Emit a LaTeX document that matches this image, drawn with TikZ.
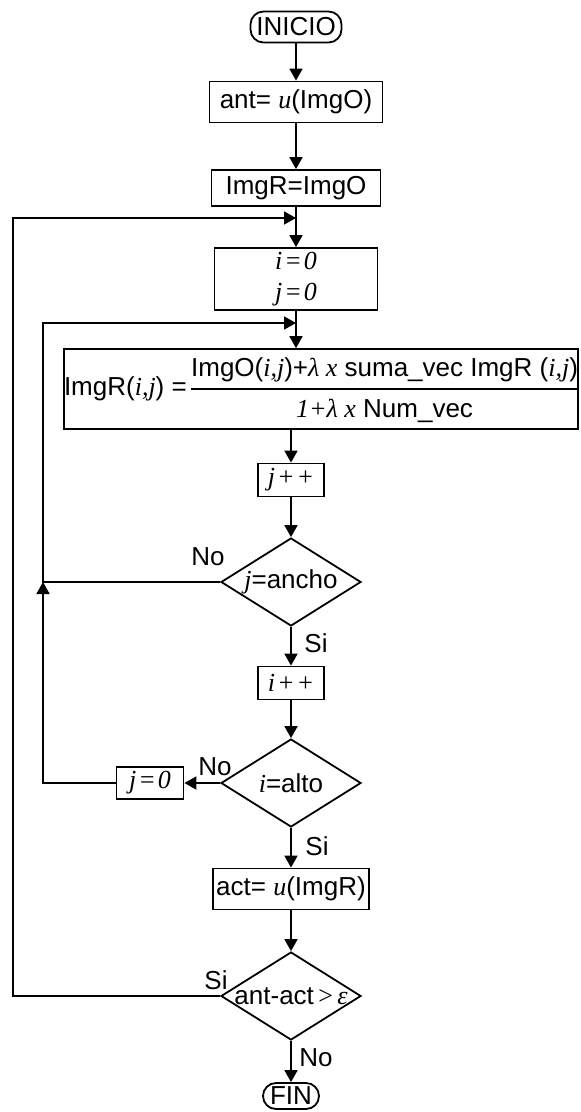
\documentclass[tikz,border=0pt]{standalone}
\usepackage{fontspec}
\setmainfont{Liberation Sans}
\newfontfamily\tms{Liberation Serif}
\usetikzlibrary{shapes.geometric,arrows.meta}
\newcommand{\vi}[1]{{\tms\itshape #1}}
\renewcommand{\arraystretch}{1.25}
\setlength{\arrayrulewidth}{0.9pt}

\begin{document}
\begin{tikzpicture}[x=0.5pt,y=-0.5pt,
        font=\fontsize{13}{15.6}\selectfont,
        line width=0.9pt,
        flow/.style={-{Triangle[length=6pt,width=6.5pt]}},
        proc/.style={draw,rectangle,inner sep=0pt},
        term/.style={draw,rectangle,rounded corners=6.5pt,inner sep=0pt},
        decision/.style={draw,diamond,inner sep=0pt,minimum width=70pt,minimum height=44pt},
        lbl/.style={inner sep=0pt}]
        \useasboundingbox (0,0) rectangle (580,1112);
        % main column
        \node[term,minimum width=45.5pt,minimum height=15.5pt] (inicio) at (296,27) {INICIO};
        \node[proc,minimum width=86.5pt,minimum height=20.5pt] (ant) at (296,102) {ant= \vi{u}(ImgO)};
        \node[proc,minimum width=84.5pt,minimum height=18pt] (copia) at (296,188) {ImgR=ImgO};
        \node[proc,minimum width=81.5pt,minimum height=31pt,align=center] (ini) at (296,279) {\vi{i\kern1pt=\kern1pt0}\\\vi{j\kern1pt=\kern1pt0}};
        \node[proc,minimum width=257pt,minimum height=37pt] (upd) at (321,389)
            {ImgR(\vi{i,j}) =\,\begin{tabular}{@{}c@{}}
                ImgO(\vi{i,j})+\vi{λ x} suma\_vec ImgR (\vi{i,j})\\\hline
                \vi{1+λ x} Num\_vec
            \end{tabular}};
        \node[proc,minimum width=33pt,minimum height=16.5pt] (jinc) at (291,480) {\vi{j\kern1pt+\kern1pt+}};
        \node[decision,label=center:{\vi{j}=ancho}] (ancho) at (291,582) {};
        \node[proc,minimum width=33pt,minimum height=16.5pt] (iinc) at (291,683) {\vi{i\kern1pt+\kern1pt+}};
        \node[decision,label=center:{\vi{i}=alto}] (alto) at (291,783) {};
        \node[proc,minimum width=33.5pt,minimum height=16pt] (jz) at (150,783) {\vi{j\kern1pt=\kern1pt0}};
        \node[proc,minimum width=78pt,minimum height=20.5pt] (act) at (291,889) {act= \vi{u}(ImgR)};
        \node[decision,label=center:{ant-act\,{\tms >}\,\vi{ε}}] (cmp) at (291,996) {};
        \node[term,minimum width=28pt,minimum height=13pt] (fin) at (291,1096) {FIN};
        % labels
        \node[lbl] (no1) at (208,557) {No};
        \node[lbl] (si1) at (316,643) {Si};
        \node[lbl] (no2) at (215,767) {No};
        \node[lbl] (si2) at (317,846) {Si};
        \node[lbl] (si3) at (216,980) {Si};
        \node[lbl] (no3) at (316,1058) {No};
        % joins
        \coordinate (join1) at (296,218);
        \coordinate (join2) at (296,323);
        \coordinate (outer) at (13,218);
        \coordinate (inner) at (43,323);
        % arrows
        \draw[flow] (inicio) -- (ant);
        \draw[flow] (ant) -- (copia);
        \draw[flow] (copia) -- (ini);
        \draw[flow] (ini) -- (ini |- upd.north);
        \draw[flow] (jinc |- upd.south) -- (jinc);
        \draw[flow] (jinc) -- (ancho);
        \draw[flow] (ancho) -- (iinc);
        \draw[flow] (iinc) -- (alto);
        \draw[flow] (alto.west) -- (jz.east);
        \draw[flow] (alto) -- (act);
        \draw[flow] (act) -- (cmp);
        \draw[flow] (cmp) -- (fin);
        % loops
        \draw[flow] (cmp.west) -| (outer) -- (join1);
        \draw[flow] (ancho.west) -| (inner) -- (join2);
        \draw[flow] (jz.west) -| (ancho.west -| inner);
    \end{tikzpicture}
\end{document}
